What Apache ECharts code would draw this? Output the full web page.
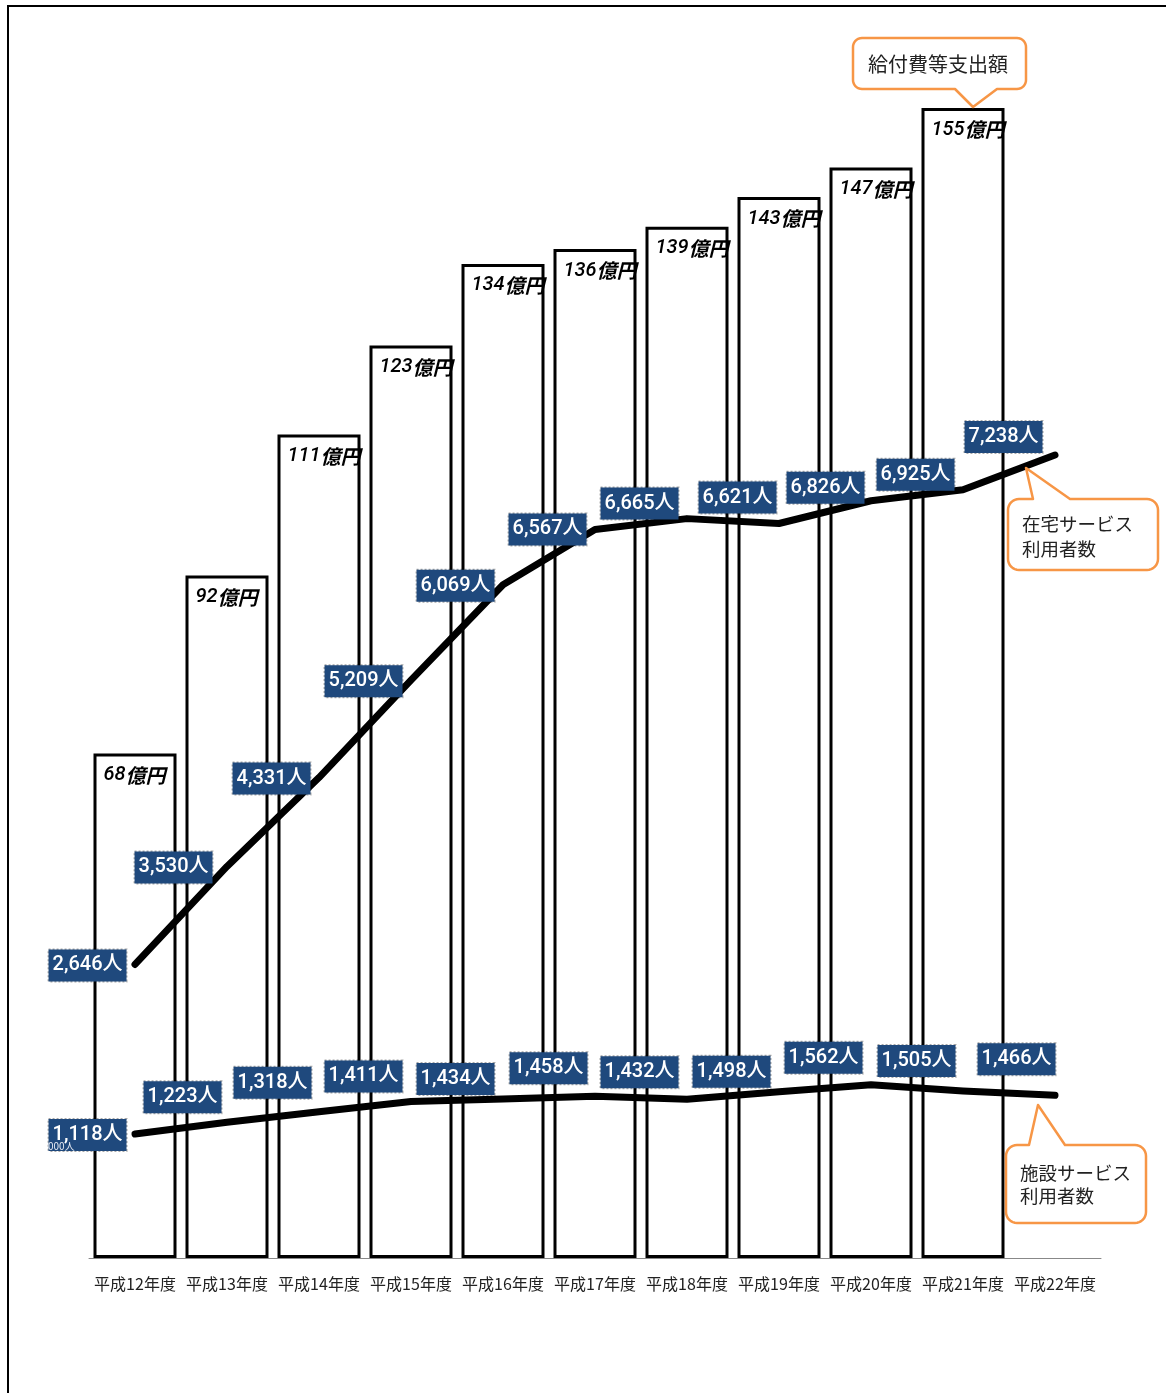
<!DOCTYPE html>
<html>
<head>
<meta charset="utf-8">
<script src="https://cdn.jsdelivr.net/npm/echarts@6/dist/echarts.min.js"></script>
<style>
html,body{margin:0;padding:0;background:#fff;}
#chart{width:1166px;height:1393px;}
</style>
</head>
<body>
<div id="chart"></div>
<script>
// ---- data ----
const years = ['平成12年度','平成13年度','平成14年度','平成15年度','平成16年度','平成17年度','平成18年度','平成19年度','平成20年度','平成21年度','平成22年度'];
const expenditure = [68, 92, 111, 123, 134, 136, 139, 143, 147, 155]; // 億円
const homeUsers = [2646, 3530, 4331, 5209, 6069, 6567, 6665, 6621, 6826, 6925, 7238]; // 在宅サービス利用者数
const facilityUsers = [1118, 1223, 1318, 1411, 1434, 1458, 1432, 1498, 1562, 1505, 1466]; // 施設サービス利用者数
const calloutTexts = ['給付費等支出額', '在宅サービス\n利用者数', '施設サービス\n利用者数'];

// ---- label nudges (style) ----
const homeNudge = [[0,1],[-6,1],[0,1],[0,1],[0,1],[0,0],[0,-15],[6,-26],[2,-13],[0,-15],[-4,-18]];
const facNudge = [[0,1],[3,-25],[1,-29],[0,-25],[0,-20],[1,-28],[0,-27],[0,-20],[0,-27],[1,-30],[9,-36]];

const chart = echarts.init(document.getElementById('chart'));

const fmt = v => v.toLocaleString('en-US') + '人';
const labelBase = {
  show: true,
  position: 'left',
  distance: 8,
  color: '#fff',
  fontSize: 20,
  fontWeight: 500,
  lineHeight: 24,
  fontFamily: 'Roboto, "Noto Sans", "Noto Sans CJK JP", sans-serif',
  backgroundColor: '#1F497D',
  borderColor: 'rgba(0,0,0,0.35)',
  borderWidth: 1,
  borderType: 'dotted',
  padding: [4, 4, 4, 4]
};
function lineData(vals, nudges) {
  return vals.map((v, i) => ({
    value: v,
    label: Object.assign({}, labelBase, { offset: nudges[i], formatter: fmt(v) })
  }));
}

// speech-bubble outline as a polygon with rounded corners
function bubble(x1, y1, x2, y2, r, side, bx1, bx2, ax, ay) {
  const pts = [];
  const arc = (cx, cy, a0, a1) => {
    const n = 8;
    for (let k = 0; k <= n; k++) {
      const a = a0 + (a1 - a0) * k / n;
      pts.push([cx + r * Math.cos(a), cy + r * Math.sin(a)]);
    }
  };
  const P = Math.PI;
  arc(x1 + r, y1 + r, P, 1.5 * P);
  if (side === 'top') { pts.push([bx1, y1], [ax, ay], [bx2, y1]); }
  arc(x2 - r, y1 + r, 1.5 * P, 2 * P);
  arc(x2 - r, y2 - r, 0, 0.5 * P);
  if (side === 'bottom') { pts.push([bx2, y2], [ax, ay], [bx1, y2]); }
  arc(x1 + r, y2 - r, 0.5 * P, P);
  return {
    type: 'polygon', z: 100,
    shape: { points: pts },
    style: { fill: '#fff', stroke: '#F79646', lineWidth: 2.5, lineJoin: 'round' }
  };
}
const cjk = '"Noto Sans CJK JP", sans-serif';

const option = {
  backgroundColor: '#fff',
  animation: false,
  grid: { left: 89, right: 65, top: 71, bottom: 135 },
  xAxis: {
    type: 'category',
    data: years,
    boundaryGap: true,
    axisLine: { show: true, lineStyle: { color: '#888', width: 1 } },
    axisTick: { show: false },
    axisLabel: { color: '#222', fontSize: 16, fontFamily: cjk, margin: 18, interval: 0, hideOverlap: false },
    splitLine: { show: false }
  },
  yAxis: [
    { type: 'value', min: 0, max: 160, show: false, splitLine: { show: false } },
    { type: 'value', min: 0, max: 10700, show: false, splitLine: { show: false } }
  ],
  series: [
    {
      name: '給付費等支出額',
      type: 'bar',
      data: expenditure,
      barWidth: 83,
      z: 1,
      itemStyle: { color: '#fff', borderColor: '#000', borderWidth: 3 },
      label: {
        show: true,
        position: 'insideTopLeft',
        distance: 10,
        formatter: p => '{n|' + p.value + '}{u|億円}',
        rich: {
          n: { fontSize: 20, lineHeight: 23, fontStyle: 'italic', fontWeight: 500, color: '#000', fontFamily: 'Roboto, "Liberation Sans", sans-serif' },
          u: { fontSize: 20, lineHeight: 23, fontStyle: 'italic', fontWeight: 'bold', color: '#000', fontFamily: cjk }
        }
      }
    },
    {
      name: '在宅サービス利用者数',
      type: 'line',
      yAxisIndex: 1,
      data: lineData(homeUsers, homeNudge),
      symbol: 'circle',
      symbolSize: 1,
      itemStyle: { color: '#000' },
      lineStyle: { color: '#000', width: 7, cap: 'round', join: 'round' },
      z: 5
    },
    {
      name: '施設サービス利用者数',
      type: 'line',
      yAxisIndex: 1,
      data: lineData(facilityUsers, facNudge),
      symbol: 'circle',
      symbolSize: 1,
      itemStyle: { color: '#000' },
      lineStyle: { color: '#000', width: 7, cap: 'round', join: 'round' },
      z: 5
    }
  ],
  graphic: [
    { type: 'polyline', z: 100, shape: { points: [[8, 1393], [8, 6], [1166, 6]] }, style: { stroke: '#000', lineWidth: 2, fill: null } },
    bubble(853, 38, 1026, 89, 9, 'bottom', 955, 997, 973, 107),
    { type: 'text', z: 101, x: 868, y: 64, style: { text: calloutTexts[0], fontSize: 20, fill: '#222', fontFamily: cjk, verticalAlign: 'middle' } },
    bubble(1008, 499, 1158, 570, 11, 'top', 1033, 1070, 1026, 468),
    { type: 'text', z: 101, x: 1022, y: 511, style: { text: calloutTexts[1], fontSize: 18.5, lineHeight: 25, fill: '#222', fontFamily: cjk, verticalAlign: 'top' } },
    bubble(1006, 1145, 1146, 1223, 11, 'top', 1029, 1065, 1038, 1105),
    { type: 'text', z: 101, x: 1020, y: 1161, style: { text: calloutTexts[2], fontSize: 18.5, lineHeight: 23, fill: '#222', fontFamily: cjk, verticalAlign: 'top' } },
    { type: 'text', z: 101, x: 48, y: 1141, style: { text: '000人', fontSize: 10, fill: '#e8ecf4', fontFamily: cjk } }
  ]
};
chart.setOption(option);
</script>
</body>
</html>
